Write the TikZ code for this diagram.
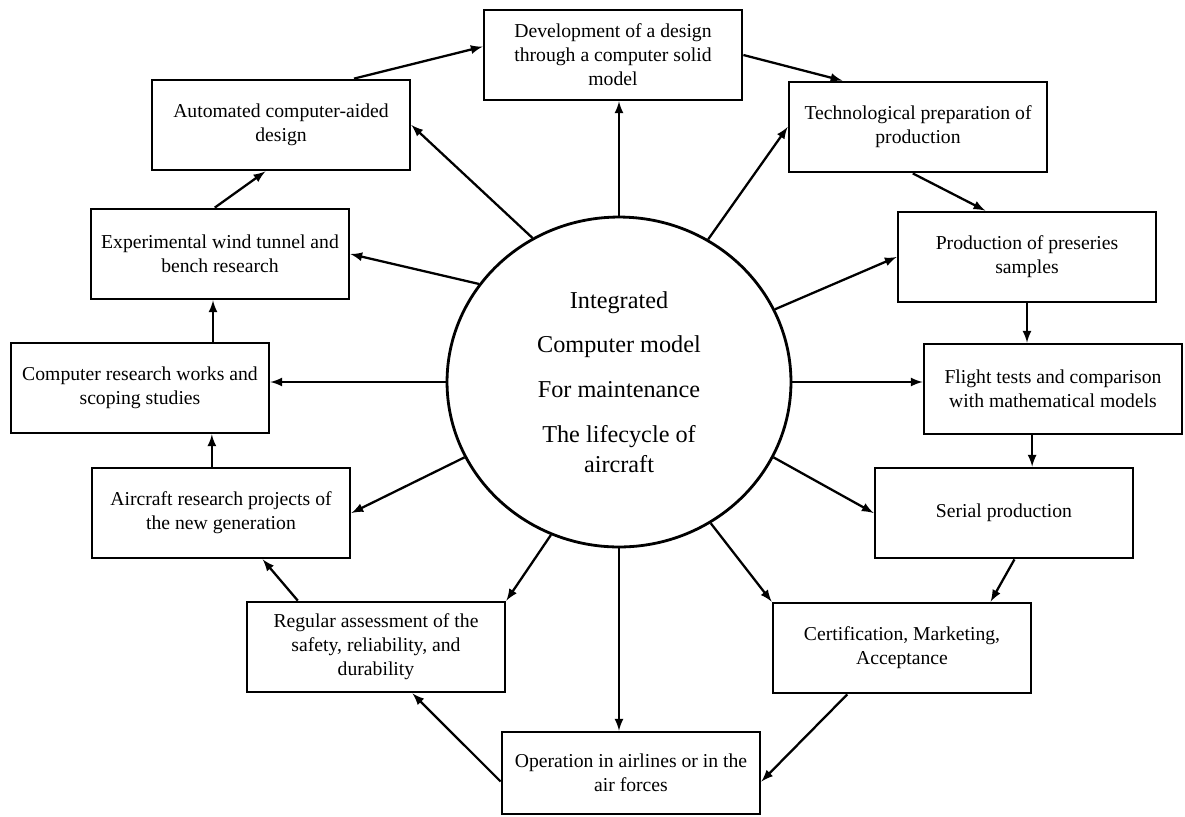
\documentclass[tikz,border=0pt]{standalone}
\usepackage{fontspec}
\setmainfont{Liberation Serif}
\usetikzlibrary{shapes.geometric}
\usetikzlibrary{calc}
\begin{document}
\begin{tikzpicture}[x=0.02cm,y=-0.02cm,
stage/.style={draw,line width=1.6pt,minimum width=5.16cm,minimum height=1.8cm,
inner sep=2pt,align=center,font=\fontsize{11.2}{13.6}\selectfont},
link/.style={-latex,line width=1.3pt}]
\useasboundingbox(0,0)rectangle(1185,816);
\node[draw,ellipse,line width=1.6pt,minimum width=6.88cm,minimum height=6.6cm,
inner sep=0pt,align=center,font=\fontsize{13.8}{17}\selectfont](C)at(619,382)
{Integrated\\[8.5pt]Computer model\\[8.5pt]For maintenance\\[8.5pt]The lifecycle of\\aircraft};

\node[stage](B1)at(613,55){Development of a design\\through a computer solid\\model};
\node[stage](B2)at(918,127){Technological preparation of\\production};
\node[stage](B3)at(1027,257){Production of preseries\\samples};
\node[stage](B4)at(1053,389){Flight tests and comparison\\with mathematical models};
\node[stage](B5)at(1004,513){Serial production};
\node[stage](B6)at(902,648){Certification, Marketing,\\Acceptance};
\node[stage,minimum height=1.64cm](B7)at(631,773){Operation in airlines or in the\\air forces};
\node[stage](B8)at(376,647){Regular assessment of the\\safety, reliability, and\\durability};
\node[stage](B9)at(221,513){Aircraft research projects of\\the new generation};
\node[stage](B10)at(140,388){Computer research works and\\scoping studies};
\node[stage](B11)at(220,254){Experimental wind tunnel and\\bench research};
\node[stage](B12)at(281,125){Automated computer-aided\\design};

\draw[link](C.north)--(C.north|-B1.south);
\draw[link](C.58)--(B2.west);
\draw[link](C.25)--(B3.west);
\draw[link](C.east)--(C.east-|B4.west);
\draw[link](C.-26)--(B5.west);
\draw[link](C.-57)--(B6.north west);
\draw[link](C.south)--(C.south|-B7.north);
\draw[link](C.-114)--(B8.north east);
\draw[link](C.206)--(B9.east);
\draw[link](C.west)--(C.west-|B10.east);
\draw[link](C.145)--(B11.east);
\draw[link](C.121)--(B12.east);

\coordinate(P4)at($(B4.south west)!0.42!(B4.south east)$);
\coordinate(P9)at($(B9.north west)!0.465!(B9.north east)$);
\coordinate(P10)at($(B10.north west)!0.78!(B10.north east)$);
\draw[link]($(B12.north west)!0.78!(B12.north east)$)--($(B1.north west)!0.41!(B1.south west)$);
\draw[link](B1.east)--($(B2.north west)!0.21!(B2.north east)$);
\draw[link]($(B2.south west)!0.48!(B2.south east)$)--($(B3.north west)!0.34!(B3.north east)$);
\draw[link](B3.south)--(B3.south|-B4.north);
\draw[link](P4)--(P4|-B5.north);
\draw[link]($(B5.south west)!0.54!(B5.south east)$)--($(B6.north west)!0.84!(B6.north east)$);
\draw[link]($(B6.south west)!0.29!(B6.south east)$)--($(B7.north east)!0.6!(B7.south east)$);
\draw[link]($(B7.north west)!0.6!(B7.south west)$)--($(B8.south west)!0.64!(B8.south east)$);
\draw[link]($(B8.north west)!0.2!(B8.north east)$)--($(B9.south west)!0.66!(B9.south east)$);
\draw[link](P9)--(P9|-B10.south);
\draw[link](P10)--(P10|-B11.south);
\draw[link]($(B11.north west)!0.48!(B11.north east)$)--($(B12.south west)!0.44!(B12.south east)$);
\end{tikzpicture}
\end{document}
